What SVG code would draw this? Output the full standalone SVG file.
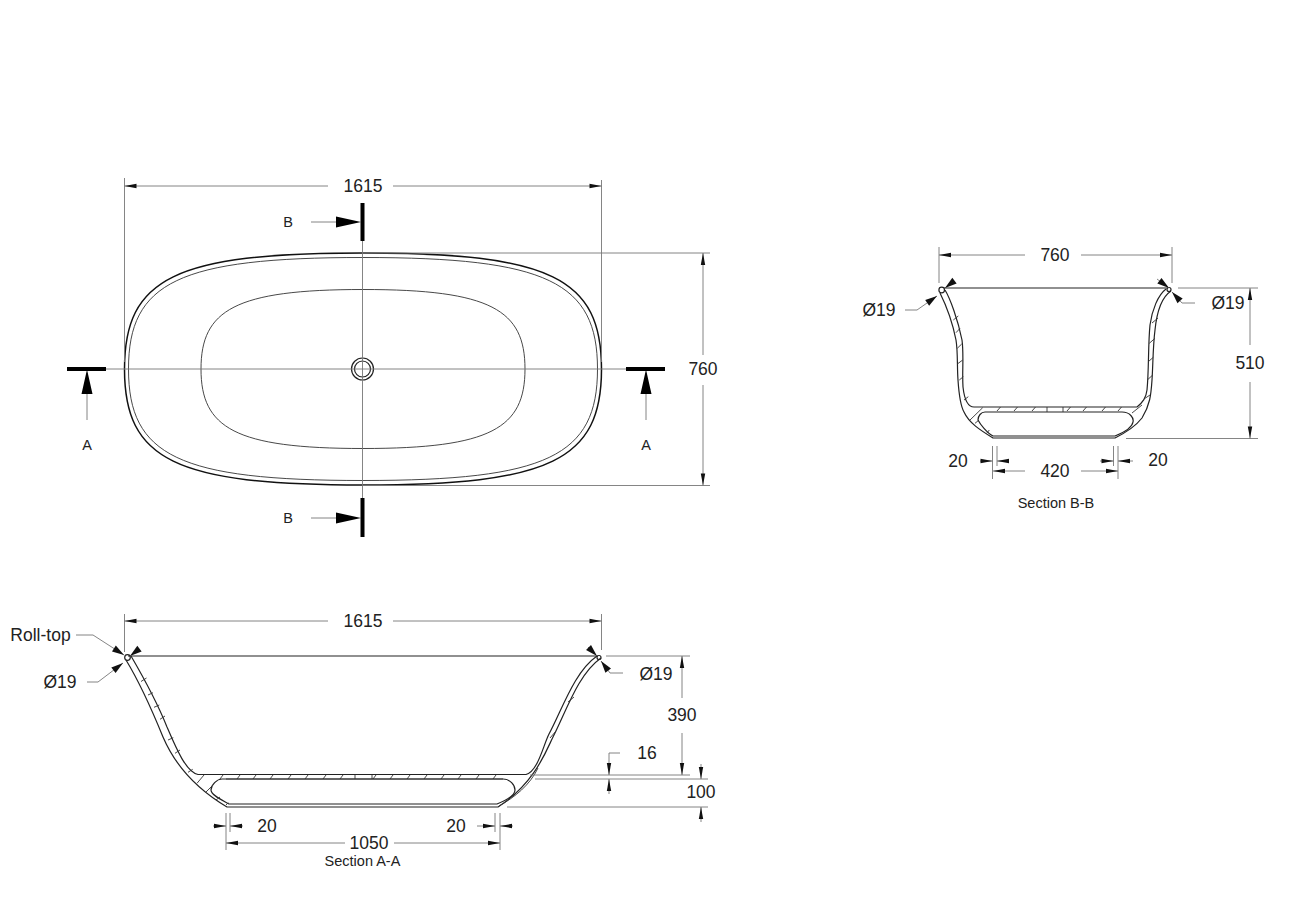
<svg xmlns="http://www.w3.org/2000/svg" width="1300" height="919" viewBox="0 0 1300 919">
<defs>
<marker id="arr" markerUnits="userSpaceOnUse" markerWidth="14" markerHeight="8" refX="13" refY="4" orient="auto"><path d="M1 1.8L13 4L1 6.2Z" fill="#111"/></marker>
<marker id="lead" markerUnits="userSpaceOnUse" markerWidth="14" markerHeight="10" refX="13" refY="5" orient="auto"><path d="M1 1.500L13 5L1 8.500Z" fill="#111"/></marker>
</defs>
<style>
text{font-family:"Liberation Sans",Arial,sans-serif;fill:#222;text-anchor:middle;dominant-baseline:central}
.d{font-size:17.5px}
.s{font-size:14.5px}
.m{font-size:14.5px}
.t{fill:none;stroke:#777;stroke-width:.9}
.a{fill:none;stroke:#777;stroke-width:.9;marker-end:url(#arr)}
.l{fill:none;stroke:#777;stroke-width:.9;marker-end:url(#lead)}
.o{fill:none;stroke:#222;stroke-width:1.2}
.w{fill:none;stroke:#111;stroke-width:1.500}
.h{fill:none;stroke:#333;stroke-width:.9}
.b{fill:none;stroke:#000;stroke-width:4}
</style>
<rect width="1300" height="919" fill="#fff"/>

<g id="plan-view">
<path class="w" d="M124.500 369C124.500 278 175 253 363 253C551 253 601.500 278 601.500 369C601.500 460 551 485 363 485C175 485 124.500 460 124.500 369Z"/>
<path class="h" d="M128.500 369C128.500 282 179 257.500 363 257.500C547 257.500 597.500 282 597.500 369C597.500 456 547 480.500 363 480.500C179 480.500 128.500 456 128.500 369Z"/>
<path class="h" d="M201 369C201 310 235 289.500 363 289.500C491 289.500 525 310 525 369C525 428 491 448.500 363 448.500C235 448.500 201 428 201 369Z"/>
<circle class="o" cx="362.500" cy="369" r="11"/>
<circle class="o" cx="362.500" cy="369" r="8"/>
</g>

<g id="section-markers">
<path class="b" d="M362.500 203V241M362.500 498V537M67 369H106M626 369H665"/>
<path d="M336 216.500L361 222L336 227.500ZM336 512.500L361 518L336 523.500ZM81.500 394L87 369.500L92.500 394ZM640.500 394L646 369.500L651.500 394Z" fill="#000"/>
<path class="t" d="M311 222H336M311 518H336M87 394V420M646 394V420"/>
<text class="m" x="288" y="222">B</text>
<text class="m" x="288" y="518">B</text>
<text class="m" x="87" y="445">A</text>
<text class="m" x="646" y="445">A</text>
</g>

<g id="section-a-a">
<path class="o" d="M128 656H598"/>
<circle class="o" cx="127.500" cy="657.500" r="2.800"/>
<circle class="o" cx="599" cy="657.500" r="2"/>
<path class="o" d="M126 660C140 683 152 710 163 737C172 758 190 785 227 807H498C535 783 546 751 553 737C566 712 578 674 601 658"/>
<path class="o" d="M131 656C145 680 157 702 167 727C176 748 186 772 198 774.500H526C538 771 543 746 549 734C562 710 574 672 597 656"/>
<path class="o" d="M222 779H503C510 779 515 785 515 790C515 795 507 800 497 804H229C222 800 211 795 211 790C211 785 217 779 222 779Z"/>
<path class="h" d="M499 806C515 797 530 785 538 768M226 779H503M355 775V779M372 775V779"/>
<path class="h" d="M141 681.500L146.500 678M148 695L153 692.700M154 707.300L159.300 705M160 719.300L165 716M168 740L173.300 737.700M175 753.300L180 750M188 772.300L192.700 769.300M197 783.300L204 775M206 792L213 785M216 800L220 797M226 805L228.300 802.700M568 702L574 697M550 738L556 731M220 779L223 775M237 779L240 775M253 779L256 775M270 779L273 775M288 779L291 775M305 779L308 775M323 779L326 775M340 779L343 775M373 779L376 775M390 779L393 775M407 779L410 775M424 779L427 775M441 779L444 775M458 779L461 775M476 779L479 775M493 779L496 775"/>
</g>

<g id="section-b-b">
<path class="o" d="M944 288H1168"/>
<circle class="o" cx="941.700" cy="290" r="2.800"/>
<circle class="o" cx="1169" cy="289.500" r="2"/>
<path class="o" d="M940 293C945 303 952 320 956 340C958 352 957 368 958 380C959 395 960 405 964 412C969 423 980 430 993 438H1115C1125 433 1135 427 1142 418C1150 405 1151 395 1152 380C1153 365 1153 345 1155 330C1157 310 1162 297 1171 291"/>
<path class="o" d="M945 290C950 298 958 320 962 340C964 355 962 372 963 387C964 396 966 407 974 407H1137C1143 402 1146 398 1147 390C1149 370 1148 345 1150 325C1152 310 1158 295 1166 289"/>
<path class="o" d="M985 412H1122C1130 412 1134 418 1133 422C1132 428 1125 432 1115 436H993C987 433 980 424 978 420C978 416 981 412 985 412Z"/>
<path class="h" d="M953.300 320L958.300 316M956 332.700L960 328.300M957.300 348.300L961.700 344M957.300 364L962.700 360M959.300 380L963.300 376.700M964 400L968.300 396.700M970 420L982.700 407.700M975 423.300L979 420M986.700 433.300L989.300 430M997 411L1000.500 407M1014 411L1017.500 407M1032 411L1035.500 407M1047 407V412M1063 407V412M1067 411L1070.500 407M1083 411L1086.500 407M1102 411L1105.500 407M1118 411L1121.500 407M1132 413L1142 405M1152 323L1158 318M1149.300 343.300L1155 338.300M1148.300 361.700L1153.300 357.300M1147.300 380L1152.700 375M1145 398.300L1150 395"/>
</g>

<g id="connectors">
<path class="t" d="M124.500 178V362M601.500 180V362M106 369H626M362.500 241V498M363 253H710M363 485.500H710"/>
<path class="a" d="M328 186H124.500"/><path class="a" d="M393 186H601.500"/>
<path class="a" d="M703 355V253"/><path class="a" d="M703 385V485.500"/>
<path class="t" d="M124.500 614V652M601.500 614V650M606 656H690M530 775H690M535 779H708M507 807H708M226 813V850M230 813V832M495 813V832M500 813V850"/>
<path class="a" d="M328 621H124.500"/><path class="a" d="M393 621H601.500"/>
<path class="a" d="M682 698V656"/><path class="a" d="M682 733V775"/>
<path class="a" d="M701 764V779"/><path class="a" d="M701 822V807"/>
<path class="a" d="M620 753H609V775"/><path class="a" d="M609 794V779"/>
<path class="a" d="M213 826H226"/><path class="a" d="M243 826H230"/>
<path class="a" d="M477 826H495"/><path class="a" d="M513 826H500"/>
<path class="a" d="M345 843H226"/><path class="a" d="M394 843H500"/>
<path class="l" d="M76 635H93L124 655"/>
<path class="l" d="M87 682H98L123 663"/>
<path class="l" d="M139 649L130 656"/>
<path class="l" d="M588 647L597 656"/>
<path class="l" d="M623 673H610L601 661"/>
<path class="t" d="M939 247V283M1172 247V283M1178 288H1258M1126 438.500H1258M992.500 446V479M997 446V466M1113.500 446V466M1118 446V479"/>
<path class="a" d="M1025 255H939"/><path class="a" d="M1081 255H1172"/>
<path class="a" d="M1250 345V288"/><path class="a" d="M1250 382V438.500"/>
<path class="a" d="M980 461H992.500"/><path class="a" d="M1009 461H997"/>
<path class="a" d="M1100 461H1113.500"/><path class="a" d="M1133 461H1118"/>
<path class="a" d="M1025 471H993"/><path class="a" d="M1081 471H1118"/>
<path class="l" d="M905 310H917L937 296"/>
<path class="l" d="M954 281L945 288"/>
<path class="l" d="M1157 279L1169 288"/>
<path class="l" d="M1195 303H1182L1172 292"/>
</g>

<g id="labels">
<text class="d" x="363" y="186">1615</text>
<text class="d" x="703" y="369">760</text>
<text class="d" x="363" y="621">1615</text>
<text class="d" x="40.500" y="635">Roll-top</text>
<text class="d" x="60" y="681.500">Ø19</text>
<text class="d" x="656" y="674">Ø19</text>
<text class="d" x="682" y="715">390</text>
<text class="d" x="647" y="753">16</text>
<text class="d" x="701" y="792">100</text>
<text class="d" x="267" y="826">20</text>
<text class="d" x="456" y="826">20</text>
<text class="d" x="369" y="842.500">1050</text>
<text class="s" x="362.500" y="861">Section A-A</text>
<text class="d" x="1055" y="255">760</text>
<text class="d" x="879" y="310">Ø19</text>
<text class="d" x="1228" y="303">Ø19</text>
<text class="d" x="1250" y="363">510</text>
<text class="d" x="958" y="461">20</text>
<text class="d" x="1158" y="460">20</text>
<text class="d" x="1055" y="471">420</text>
<text class="s" x="1056" y="503">Section B-B</text>
</g>
</svg>
